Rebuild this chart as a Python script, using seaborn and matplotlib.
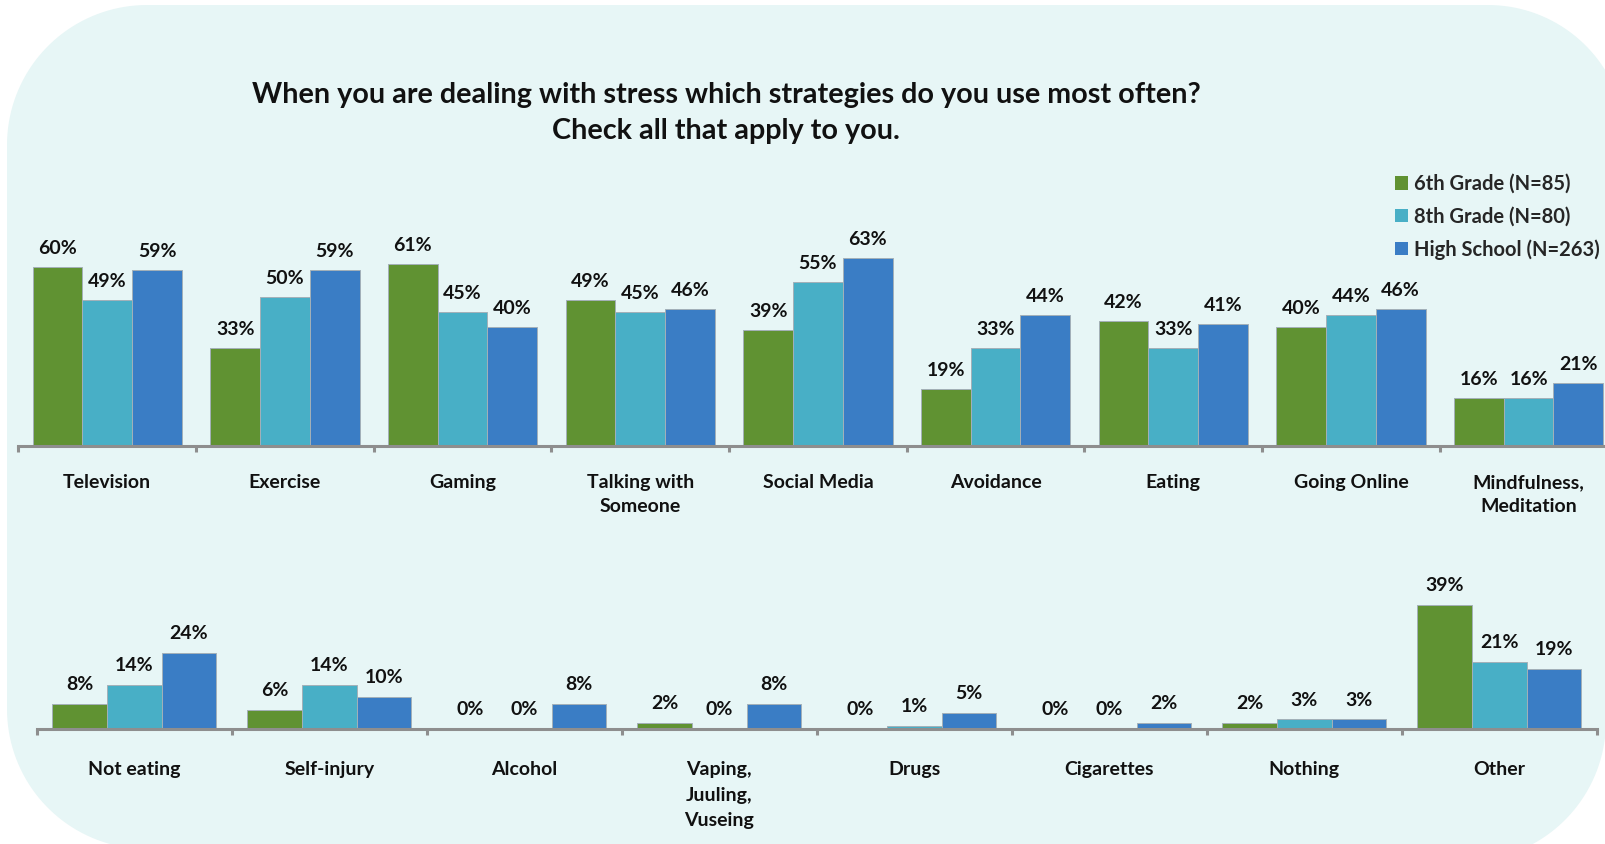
import numpy as np
import pandas as pd
import matplotlib
matplotlib.use("Agg")
import matplotlib.pyplot as plt
from matplotlib.patches import Patch, PathPatch
from matplotlib.path import Path
from matplotlib.transforms import IdentityTransform
import seaborn as sns

# ---- data -------------------------------------------------------------
groups = ["6th Grade (N=85)", "8th Grade (N=80)", "High School (N=263)"]

top_categories = ["Television", "Exercise", "Gaming", "Talking with\nSomeone",
                  "Social Media", "Avoidance", "Eating", "Going Online",
                  "Mindfulness,\nMeditation"]
top_6th = [60, 33, 61, 49, 39, 19, 42, 40, 16]
top_8th = [49, 50, 45, 45, 55, 33, 33, 44, 16]
top_hs = [59, 59, 40, 46, 63, 44, 41, 46, 21]

bottom_categories = ["Not eating", "Self-injury", "Alcohol",
                     "Vaping,\nJuuling,\nVuseing", "Drugs", "Cigarettes",
                     "Nothing", "Other"]
bottom_6th = [8, 6, 0, 2, 0, 0, 2, 39]
bottom_8th = [14, 14, 0, 0, 1, 0, 3, 21]
bottom_hs = [24, 10, 8, 8, 5, 2, 3, 19]

title_text = ("When you are dealing with stress which strategies do you use most often?\n"
              "Check all that apply to you.")

colors = ["#609232", "#48afc6", "#3a7dc5"]
bg_color = "#e7f6f6"
axis_gray = "#8e8e8e"


def long_frame(categories, series):
    rows = []
    for g, vals in zip(groups, series):
        for c, v in zip(categories, vals):
            rows.append({"Strategy": c, "Group": g, "Percent": v})
    return pd.DataFrame(rows)


df_top = long_frame(top_categories, [top_6th, top_8th, top_hs])
df_bottom = long_frame(bottom_categories, [bottom_6th, bottom_8th, bottom_hs])

# ---- style ------------------------------------------------------------
sns.set_theme(style="white")
plt.rcParams["font.family"] = ["Lato", "DejaVu Sans"]
plt.rcParams["font.weight"] = "bold"

W, H = 1605, 844
fig = plt.figure(figsize=(W / 100, H / 100), dpi=100)
fig.patch.set_facecolor("white")

# rounded panel behind the charts (pixel coordinates, y measured from top)
def arc(cx, cy, r, a0, a1, n=40):
    t = np.radians(np.linspace(a0, a1, n))
    return [(cx + r * np.cos(a), cy - r * np.sin(a)) for a in t]

pts = []
pts += arc(147, 145, 140, 180, 90)          # top-left
pts += arc(1488, 143, 138, 90, 0)           # top-right
pts += arc(1466, 721, 140, 0, -90)          # bottom-right
pts += arc(147, 709, 140, -90, -180)        # bottom-left
pts.append(pts[0])
verts = [(x, H - y) for x, y in pts]
codes = [Path.MOVETO] + [Path.LINETO] * (len(verts) - 2) + [Path.CLOSEPOLY]
panel = PathPatch(Path(verts, codes), facecolor=bg_color, edgecolor="none",
                  transform=IdentityTransform(), zorder=-10)
fig.patches.append(panel)

FS = 14


def draw_panel(ax, df, categories, xlim, ylim, label_pad, label_offset, linespacing):
    sns.barplot(data=df, x="Strategy", y="Percent", hue="Group",
                order=categories, hue_order=groups, palette=colors,
                width=0.84, saturation=1, errorbar=None, legend=False,
                edgecolor="#a3b0b8", linewidth=0.7, ax=ax)
    ax.set_facecolor("none")
    ax.set_xlabel("")
    ax.set_ylabel("")
    ax.set_yticks([])
    for s in ["top", "left", "right"]:
        ax.spines[s].set_visible(False)
    ax.spines["bottom"].set_color(axis_gray)
    ax.spines["bottom"].set_linewidth(2.2)
    ax.spines["bottom"].set_zorder(5)

    n = len(categories)
    ax.set_xticks(np.arange(n))
    ax.set_xticklabels(categories, fontsize=FS, fontweight="bold",
                       color="#111111", linespacing=linespacing)
    ax.tick_params(axis="x", which="major", length=0, pad=label_pad)
    ax.set_xticks(np.arange(-0.5, n + 0.5, 1.0), minor=True)
    ax.tick_params(axis="x", which="minor", length=4, width=2.2,
                   color=axis_gray, direction="out", bottom=True)
    ax.set_xlim(*xlim)
    ax.set_ylim(*ylim)

    for cont in ax.containers:
        for bar in cont:
            h = bar.get_height()
            ax.annotate(f"{h:.0f}%", (bar.get_x() + bar.get_width() / 2, h),
                        xytext=(0, label_offset), textcoords="offset points",
                        ha="center", va="center", fontsize=FS,
                        fontweight="bold", color="#111111", zorder=6)


# top chart
ax_top = fig.add_axes([18.4 / W, (H - 446) / H, 1 - 18.4 / W, 70 * 2.98 / H])
draw_panel(ax_top, df_top, top_categories, (-0.5, 8.43), (0, 70),
           label_pad=20, label_offset=13.3, linespacing=1.5)

# bottom chart
ax_bot = fig.add_axes([36.85 / W, (H - 729) / H, (1596.8 - 36.85) / W, 45 * 3.17 / H])
draw_panel(ax_bot, df_bottom, bottom_categories, (-0.5, 7.5), (0, 45),
           label_pad=23, label_offset=14, linespacing=1.62)

# title
fig.text(726 / W, 1 - 82 / H, title_text, ha="center", va="top",
         fontsize=20.7, fontweight="bold", color="#111111", linespacing=1.5)

# legend
handles = [Patch(facecolor=c, edgecolor="none") for c in colors]
fig.legend(handles, groups, loc="upper left",
           bbox_to_anchor=(1395 / W, 1 - 174 / H), bbox_transform=fig.transFigure,
           frameon=False, prop={"weight": "bold", "size": 14.5},
           handlelength=0.65, handleheight=0.65, handletextpad=0.3,
           labelspacing=0.62, borderpad=0, borderaxespad=0)

fig.savefig("out.png", dpi=100, facecolor="white")
